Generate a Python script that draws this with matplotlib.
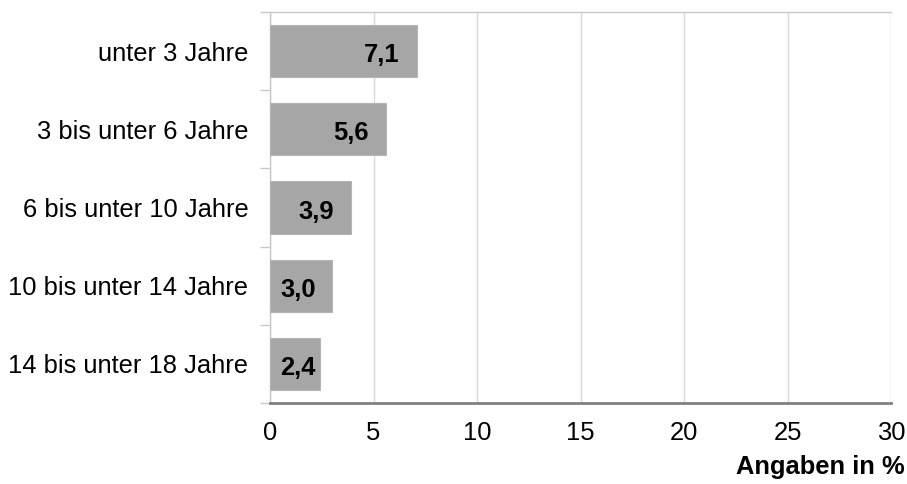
import matplotlib
matplotlib.use("Agg")
import matplotlib.pyplot as plt

categories = ["unter 3 Jahre", "3 bis unter 6 Jahre", "6 bis unter 10 Jahre",
              "10 bis unter 14 Jahre", "14 bis unter 18 Jahre"]
values = [7.1, 5.6, 3.9, 3.0, 2.4]
value_labels = ["7,1", "5,6", "3,9", "3,0", "2,4"]
xticks = [0, 5, 10, 15, 20, 25, 30]

plt.rcParams['font.family'] = ['Liberation Sans', 'DejaVu Sans']
FS = 18.4

fig = plt.figure(figsize=(9.07, 4.84), dpi=100)
ax = fig.add_axes([270/907, 1 - 403/484, 621/907, 391/484])

n = len(categories)
ypos = list(range(n))
ax.barh(ypos, values, height=0.67, color="#A6A6A6", edgecolor="#B5B5B5", linewidth=0.8, zorder=3)
ax.set_ylim(n - 0.5, -0.5)
ax.set_xlim(0, 30)

ax.set_yticks(ypos)
ax.set_yticklabels(categories, fontsize=FS)
ax.set_yticks([i - 0.5 for i in range(n + 1)], minor=True)
ax.tick_params(axis='y', which='major', length=0, pad=15.5)
ax.tick_params(axis='y', which='minor', length=7, color="#C8C8C8", width=1)

ax.set_xticks(xticks)
ax.set_xticklabels([str(t) for t in xticks], fontsize=FS)
ax.tick_params(axis='x', length=0, pad=13)
ax.grid(axis='x', color="#D9D9D9", linewidth=1, zorder=0)

for s in ["top", "left", "right"]:
    ax.spines[s].set_color("#C8C8C8")
    ax.spines[s].set_linewidth(1)
ax.spines["right"].set_visible(False)
ax.spines["bottom"].set_color("#808080")
ax.spines["bottom"].set_linewidth(2)

for y, v, lab in zip(ypos, values, value_labels):
    xr = max(v - 0.82, 2.2)
    ax.text(xr, y + 0.02, lab, ha='right', va='center_baseline', fontsize=FS,
            fontweight='bold', color='black', zorder=4)

fig.text(905/907, 1 - 467/484, "Angaben in %", ha='right', va='center', fontsize=FS, fontweight='bold')

fig.savefig("out.png", dpi=100)
